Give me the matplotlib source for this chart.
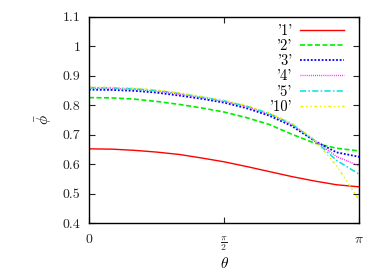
import numpy as np
import matplotlib
matplotlib.use("Agg")
import matplotlib.pyplot as plt

plt.rcParams['font.family'] = 'cmr10'
plt.rcParams['mathtext.fontset'] = 'cm'
plt.rcParams['axes.formatter.use_mathtext'] = True

# theta grid in units of pi
theta_frac = [0, 1/12, 2/12, 3/12, 4/12, 5/12, 6/12, 7/12, 8/12, 9/12, 10/12, 11/12, 1]

phi_1 = [0.652, 0.651, 0.647, 0.641, 0.633, 0.621, 0.608, 0.592, 0.575, 0.558, 0.543, 0.530, 0.523]
phi_2 = [0.826, 0.825, 0.821, 0.813, 0.803, 0.791, 0.777, 0.758, 0.735, 0.702, 0.672, 0.654, 0.645]
phi_3 = [0.853, 0.852, 0.849, 0.843, 0.833, 0.822, 0.809, 0.790, 0.765, 0.730, 0.680, 0.640, 0.625]
phi_4 = [0.858, 0.857, 0.854, 0.848, 0.838, 0.826, 0.813, 0.795, 0.770, 0.735, 0.681, 0.626, 0.594]
phi_5 = [0.860, 0.859, 0.856, 0.850, 0.840, 0.828, 0.815, 0.797, 0.772, 0.737, 0.682, 0.613, 0.566]
phi_10 = [0.862, 0.861, 0.858, 0.852, 0.842, 0.830, 0.817, 0.799, 0.774, 0.740, 0.684, 0.595, 0.478]

labels = ["'1'", "'2'", "'3'", "'4'", "'5'", "'10'"]
series = [phi_1, phi_2, phi_3, phi_4, phi_5, phi_10]
colors = ['#ff0000', '#00ee00', '#0000ff', '#ff00ff', '#00e0e0', '#eeee00']
styles = ['-', (0, (3, 1.5)), (0, (1, 1)), (0, (0.6, 0.9)), (0, (4, 1.5, 1, 1.5)), (0, (2, 2, 1, 2, 1, 2))]
widths = [1.0, 1.2, 1.3, 1.0, 1.1, 1.0]

theta = np.array(theta_frac) * np.pi

fig = plt.figure(figsize=(3.82, 2.73), dpi=100)
ax = fig.add_axes([0.233, 0.183, 0.707, 0.755])

for y, lab, c, ls, lw in zip(series, labels, colors, styles, widths):
    ax.plot(theta, y, color=c, linestyle=ls, linewidth=lw, label=lab)

ax.set_xlim(0, np.pi)
ax.set_ylim(0.4, 1.1)
ax.set_xticks([0, np.pi / 2, np.pi])
ax.set_xticklabels(['0', r'$\frac{\pi}{2}$', r'$\pi$'])
ax.set_yticks([0.4, 0.5, 0.6, 0.7, 0.8, 0.9, 1.0, 1.1])
ax.set_yticklabels(['0.4', '0.5', '0.6', '0.7', '0.8', '0.9', '1', '1.1'])
ax.tick_params(direction='in', top=True, right=True, length=4, labelsize=10,
               colors='#222222', pad=6)
ax.tick_params(axis='x', pad=8)
for s in ax.spines.values():
    s.set_linewidth(1.0)

ax.set_xlabel(r'$\theta$', fontsize=11, labelpad=2)
ax.set_ylabel(r'$\bar{\phi}$', fontsize=11, labelpad=6)

leg = ax.legend(loc='upper right', bbox_to_anchor=(0.97, 1.0), frameon=False,
                markerfirst=False, fontsize=10.5, handlelength=3.0, labelspacing=0.1,
                borderaxespad=0.3, borderpad=0.2, handletextpad=0.5)

fig.savefig('out.png', dpi=100)
